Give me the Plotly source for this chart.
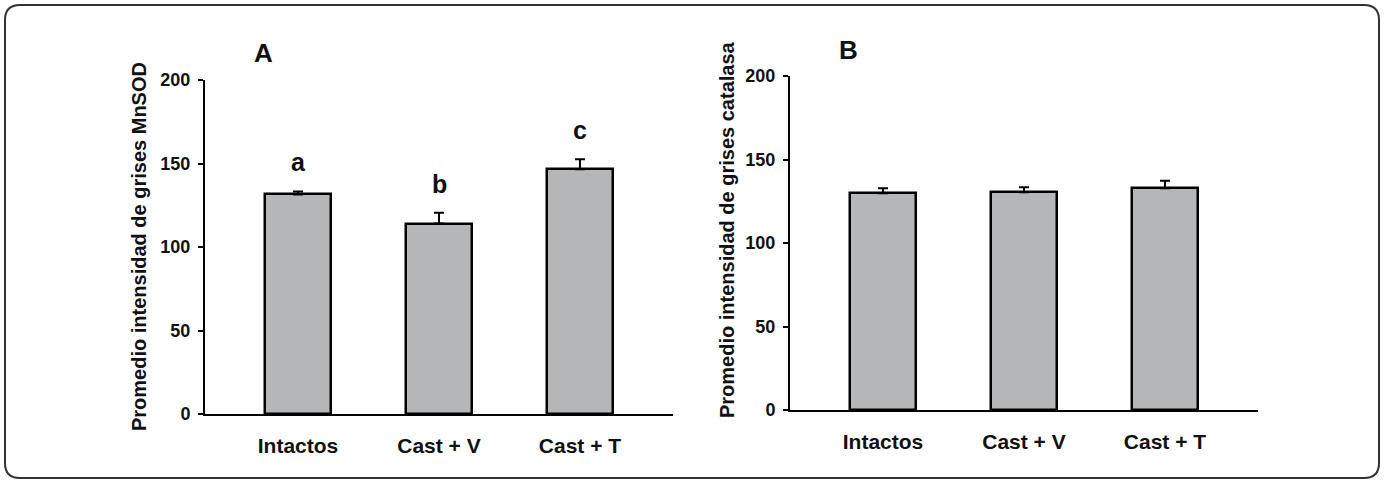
import plotly.graph_objects as go

W, H = 1384, 485

categories = ["Intactos", "Cast + V", "Cast + T"]
mnsod_mean = [131.5, 114.0, 146.5]
mnsod_err = [1.8, 6.5, 6.0]
mnsod_letters = ["a", "b", "c"]
catalasa_mean = [129.8, 130.4, 132.8]
catalasa_err = [3.0, 3.0, 4.5]
y_ticks = [0, 50, 100, 150, 200]

FONT = "Liberation Sans, Arial, sans-serif"
BAR_FILL = "#b4b6b8"

def px_x(p):
    return p / W

def px_y(p):
    return 1 - p / H

fig = go.Figure()

def add_panel(xa, ya, means, errs):
    fig.add_trace(go.Bar(
        x=categories, y=means,
        xaxis=xa, yaxis=ya,
        width=0.47,
        marker=dict(color=BAR_FILL, line=dict(color="black", width=2.5)),
        error_y=dict(type="data", symmetric=False, array=errs,
                     arrayminus=[0] * len(errs), color="black",
                     thickness=2, width=5),
        showlegend=False,
    ))

add_panel("x", "y", mnsod_mean, mnsod_err)
add_panel("x2", "y2", catalasa_mean, catalasa_err)

xcommon = dict(
    type="category", range=[-0.66, 2.66], automargin=False,
    showline=True, linecolor="black", linewidth=2,
    ticks="", showgrid=False, zeroline=False,
    tickfont=dict(family=FONT, size=21, color="#111", weight="bold"),
    ticklabelstandoff=12, fixedrange=True,
)
ycommon = dict(
    range=[0, 200], tickvals=y_ticks, automargin=False,
    showline=True, linecolor="black", linewidth=2,
    ticks="outside", ticklen=5, tickwidth=2, tickcolor="black",
    showgrid=False, zeroline=False,
    tickfont=dict(family=FONT, size=18, color="#111", weight="bold"),
    ticklabelstandoff=4, fixedrange=True,
)

fig.update_layout(
    template="none",
    width=W, height=H,
    margin=dict(l=0, r=0, t=0, b=0, autoexpand=False),
    paper_bgcolor="white", plot_bgcolor="white",
    bargap=0,
    xaxis=dict(xcommon, domain=[px_x(205), px_x(673)], anchor="y"),
    yaxis=dict(ycommon, domain=[px_y(414), px_y(80)], anchor="x"),
    xaxis2=dict(xcommon, domain=[px_x(790), px_x(1258)], anchor="y2"),
    yaxis2=dict(ycommon, domain=[px_y(410), px_y(76)], anchor="x2"),
)

# significance letters above error bars
for c, m, e, t in zip(categories, mnsod_mean, mnsod_err, mnsod_letters):
    fig.add_annotation(x=c, y=m + e, xref="x", yref="y", text=t,
                       showarrow=False, yanchor="bottom", yshift=13,
                       font=dict(family=FONT, size=25, color="#111", weight="bold"))

# panel labels
fig.add_annotation(x=px_x(263), y=px_y(53), xref="paper", yref="paper", text="A",
                   showarrow=False, xanchor="center", yanchor="middle",
                   font=dict(family=FONT, size=26, color="#111", weight="bold"))
fig.add_annotation(x=px_x(848), y=px_y(50), xref="paper", yref="paper", text="B",
                   showarrow=False, xanchor="center", yanchor="middle",
                   font=dict(family=FONT, size=26, color="#111", weight="bold"))

# y-axis titles
fig.add_annotation(x=px_x(139), y=px_y(247), xref="paper", yref="paper",
                   text="Promedio intensidad de grises MnSOD", textangle=-90,
                   showarrow=False, xanchor="center", yanchor="middle",
                   font=dict(family=FONT, size=20, color="#111", weight="bold"))
fig.add_annotation(x=px_x(727), y=px_y(230), xref="paper", yref="paper",
                   text="Promedio intensidad de grises catalasa", textangle=-90,
                   showarrow=False, xanchor="center", yanchor="middle",
                   font=dict(family=FONT, size=20, color="#111", weight="bold"))

# rounded frame
L, T, R, B, r = 5, 5, 1379, 478, 15
def P(x, y):
    return f"{px_x(x):.5f},{px_y(y):.5f}"
path = (f"M {P(L + r, T)} L {P(R - r, T)} Q {P(R, T)} {P(R, T + r)} "
        f"L {P(R, B - r)} Q {P(R, B)} {P(R - r, B)} "
        f"L {P(L + r, B)} Q {P(L, B)} {P(L, B - r)} "
        f"L {P(L, T + r)} Q {P(L, T)} {P(L + r, T)} Z")
fig.add_shape(type="path", path=path, xref="paper", yref="paper",
              line=dict(color="#333", width=2), fillcolor="rgba(0,0,0,0)")

fig.write_html("out.html")
